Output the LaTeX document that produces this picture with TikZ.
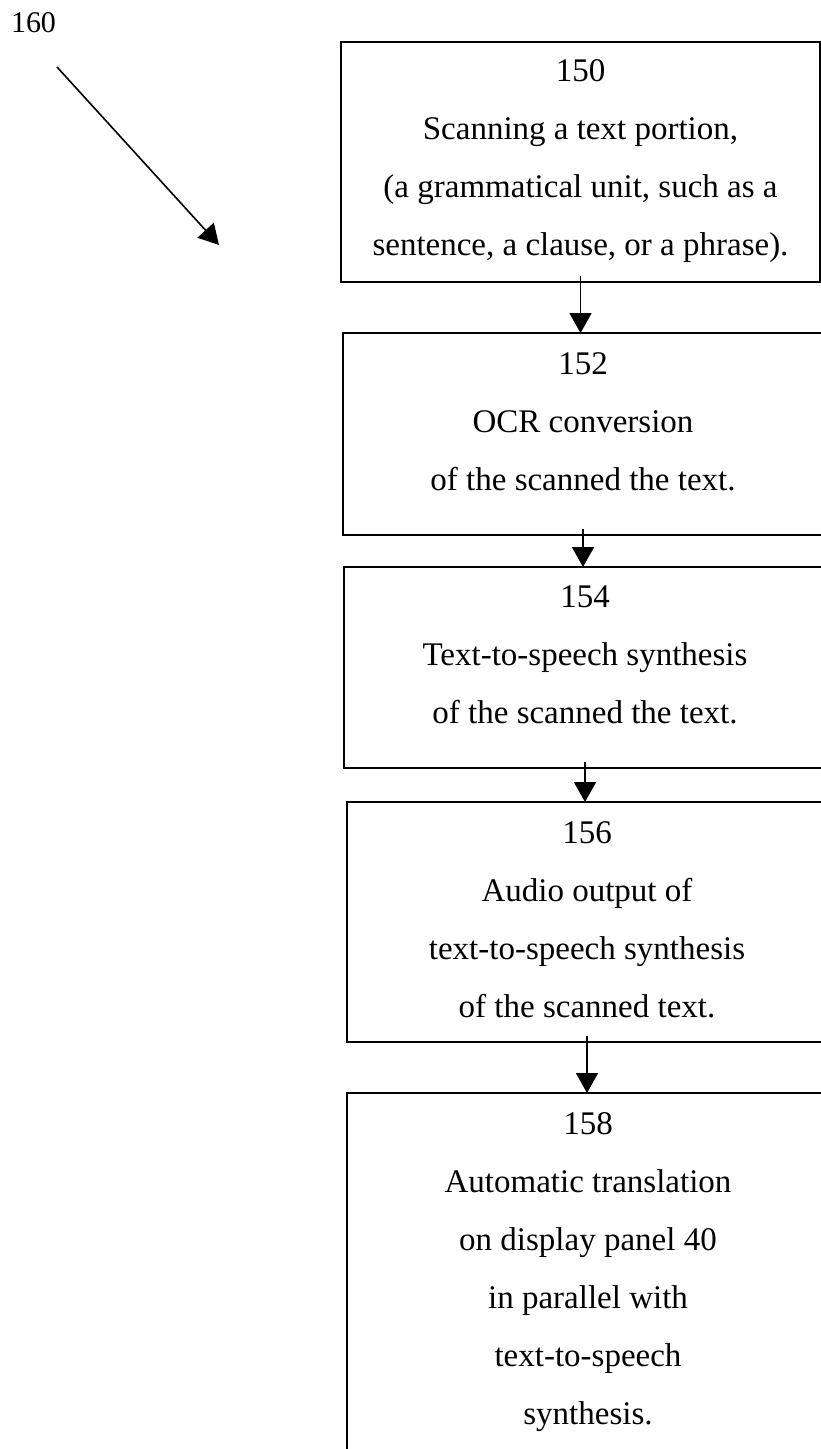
\documentclass[tikz,border=0pt]{standalone}
\usepackage{fontspec}
\setmainfont{Liberation Serif}
\usetikzlibrary{arrows.meta}
\begin{document}
\begin{tikzpicture}[x=1pt,y=-1pt,
  box/.style={draw, line width=1.6pt, rectangle, inner sep=0pt, outer sep=0pt},
  txt/.style={anchor=north, align=center, inner sep=0pt, font=\fontsize{33}{58}\selectfont},
  flow/.style={line width=1.8pt, -{Triangle[width=22pt,length=20pt]}}
]
\useasboundingbox (0,0) rectangle (821,1449);
\clip (0,0) rectangle (821,1449);
% boxes
\node[box, minimum width=479pt, minimum height=240pt] (b1) at (580.5,162) {};
\node[box, minimum width=480pt, minimum height=202pt] (b2) at (583,434) {};
\node[box, minimum width=482pt, minimum height=201pt] (b3) at (585,667.5) {};
\node[box, minimum width=480pt, minimum height=240pt] (b4) at (587,922) {};
\node[box, minimum width=482pt, minimum height=407pt] (b5) at (588,1296.5) {};
% texts
\node[txt] (t1) at ([yshift=-17pt]b1.north) {150\\Scanning a text portion,\\(a grammatical unit, such as a\\sentence, a clause, or a phrase).};
\node[txt] (t2) at ([yshift=-19pt]b2.north) {152\\OCR conversion\\of the scanned the text.};
\node[txt] (t3) at ([yshift=-19pt]b3.north) {154\\Text-to-speech synthesis\\of the scanned the text.};
\node[txt] (t4) at ([yshift=-19pt]b4.north) {156\\Audio output of\\text-to-speech synthesis\\of the scanned text.};
\node[txt] (t5) at ([yshift=-19pt]b5.north) {158\\Automatic translation\\on display panel 40\\in parallel with\\text-to-speech\\synthesis.};
% arrows between boxes
\draw[flow] ([yshift=6pt]b1.south) -- (b1.south |- b2.north);
\draw[flow] ([yshift=6pt]b2.south) -- (b2.south |- b3.north);
\draw[flow] ([yshift=6pt]b3.south) -- (b3.south |- b4.north);
\draw[flow] ([yshift=6pt]b4.south) -- (b4.south |- b5.north);
% reference arrow 160
\node[inner sep=0pt, font=\fontsize{30}{36}\selectfont] (l160) at (33.5,22.5) {160};
\coordinate (s160) at (57,67);
\coordinate (e160) at (219,245);
\draw[flow, line width=1.6pt] (s160) -- (e160);
\end{tikzpicture}
\end{document}
